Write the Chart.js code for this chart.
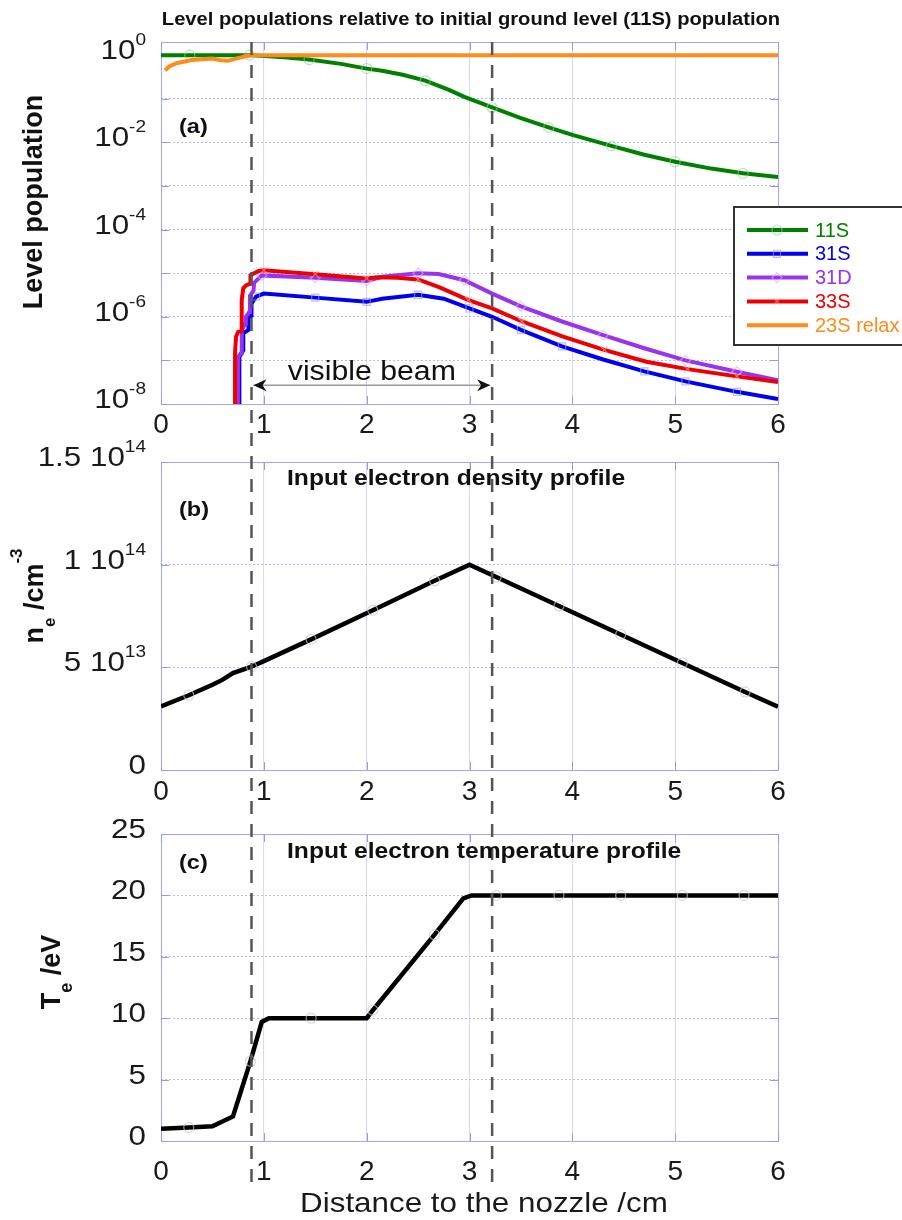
<!DOCTYPE html>
<html>
<head>
<meta charset="utf-8">
<script src="https://cdn.jsdelivr.net/npm/chart.js@4.4.1/dist/chart.umd.min.js"></script>
<style>
  body { margin: 0; background: #fff; }
  #page { position: relative; width: 902px; height: 1220px; overflow: hidden; background: #fff; }
  canvas { position: absolute; left: 0; }
</style>
</head>
<body>
<div id="page">
  <canvas id="grafA" width="902" height="445" style="top:0px"></canvas>
  <canvas id="grafB" width="902" height="390" style="top:425px"></canvas>
  <canvas id="grafC" width="902" height="430" style="top:790px"></canvas>
</div>
<script>
// dados

const xTicks = [0, 1, 2, 3, 4, 5, 6]
const beamEdges = [0.88, 3.22]
const beamArrowY = 2.7e-8

// (a) populacoes
const popTicks = [1e-8, 1e-7, 1e-6, 1e-5, 1e-4, 1e-3, 1e-2, 1e-1, 1]

const x11S = [0, 0.28, 0.6, 0.86, 1.2, 1.44, 1.75, 2.0, 2.15, 2.35, 2.57, 2.8, 2.95, 3.22, 3.5, 3.77, 4.0, 4.38, 4.7, 5.0, 5.35, 5.66, 6.0]
const pop11S = [1, 1, 1, 1, 0.89, 0.79, 0.63, 0.49, 0.44, 0.355, 0.26, 0.16, 0.11, 0.063, 0.036, 0.022, 0.0148, 0.0083, 0.0052, 0.0036, 0.0025, 0.00195, 0.0016]
const mark11S = [0.28, 0.86, 1.44, 2.0, 2.57, 3.22, 3.77, 4.38, 5.0, 5.66]

const x31S = [0.76, 0.762, 0.762, 0.8, 0.8, 0.85, 0.85, 0.88, 0.88, 0.924, 1.0, 1.5, 2.0, 2.15, 2.5, 2.75, 3.0, 3.22, 3.5, 3.9, 4.3, 4.7, 5.1, 5.6, 6.0]
const pop31S = [1e-9, 4e-8, 1.2e-7, 1.7e-7, 4.2e-7, 5e-7, 1e-6, 1.05e-6, 2e-6, 2.9e-6, 3.4e-6, 2.75e-6, 2.2e-6, 2.6e-6, 3.2e-6, 2.6e-6, 1.55e-6, 1.0e-6, 5.0e-7, 2.1e-7, 1.05e-7, 5.6e-8, 3.3e-8, 1.9e-8, 1.3e-8]
const mark31S = [0.924, 1.5, 2.0, 2.5, 3.0, 3.5, 3.9, 4.7, 5.1, 5.6]

const x31D = [0.745, 0.75, 0.78, 0.785, 0.82, 0.825, 0.86, 0.865, 0.9, 0.905, 0.98, 1.5, 2.0, 2.15, 2.5, 2.7, 2.95, 3.22, 3.5, 3.9, 4.3, 4.7, 5.1, 5.6, 6.0]
const pop31D = [1e-9, 1.2e-7, 1.5e-7, 5e-7, 7e-7, 1e-6, 1.3e-6, 3e-6, 4e-6, 6e-6, 8.9e-6, 7.9e-6, 6.6e-6, 8.3e-6, 1.0e-5, 9.6e-6, 6.9e-6, 3.4e-6, 1.74e-6, 7.8e-7, 3.8e-7, 1.9e-7, 1.0e-7, 5.5e-8, 3.5e-8]
const mark31D = [0.98, 1.5, 2.0, 2.5, 2.95, 3.5, 4.3, 5.1, 5.6]

const x33S = [0.72, 0.72, 0.73, 0.75, 0.785, 0.785, 0.8, 0.83, 0.866, 0.87, 0.95, 1.0, 1.5, 2.0, 2.1, 2.3, 2.5, 2.71, 2.99, 3.22, 3.51, 3.91, 4.31, 4.72, 5.12, 5.6, 6.0]
const pop33S = [1e-9, 1.5e-7, 3.5e-7, 4.5e-7, 4.7e-7, 2.4e-6, 4.5e-6, 5.3e-6, 5.7e-6, 9e-6, 1.12e-5, 1.17e-5, 9.5e-6, 7.6e-6, 8.1e-6, 7.9e-6, 7.2e-6, 4.7e-6, 2.4e-6, 1.55e-6, 7.8e-7, 3.5e-7, 1.74e-7, 9.3e-8, 6.3e-8, 4.3e-8, 3.2e-8]
const mark33S = [1.0, 1.5, 2.0, 2.5, 2.99, 3.51, 4.31, 5.12, 5.6]

const x23S = [0.04, 0.08, 0.15, 0.3, 0.5, 0.58, 0.65, 0.72, 0.84, 0.88, 6.0]
const pop23S = [0.45, 0.55, 0.65, 0.77, 0.84, 0.76, 0.74, 0.82, 0.97, 1, 1]

// (b) densidade
const neTicks = [0, 5e13, 1e14, 1.5e14]
const xNe = [0, 0.27, 0.5, 0.6, 0.7, 0.88, 1.0, 1.46, 2.06, 2.66, 3.0, 3.26, 3.87, 4.47, 5.07, 5.68, 6.0]
const ne = [3.1e13, 3.64e13, 4.15e13, 4.4e13, 4.72e13, 5.03e13, 5.3e13, 6.36e13, 7.78e13, 9.22e13, 1.0e14, 9.4e13, 7.99e13, 6.6e13, 5.21e13, 3.8e13, 3.08e13]
const markNe = [0.27, 0.88, 1.46, 2.06, 2.66, 3.26, 3.87, 4.47, 5.07, 5.68]

// (c) temperatura
const teTicks = [0, 5, 10, 15, 20, 25]
const xTe = [0, 0.27, 0.5, 0.7, 0.87, 0.98, 1.05, 1.46, 2.0, 2.06, 2.66, 2.94, 3.02, 3.26, 3.87, 4.47, 5.07, 5.67, 6.0]
const te = [1.0, 1.1, 1.2, 2.0, 6.5, 9.7, 10, 10, 10, 10.65, 16.8, 19.75, 20, 20, 20, 20, 20, 20, 20]
const markTe = [0.27, 0.87, 1.46, 2.06, 2.66, 3.26, 3.87, 4.47, 5.07, 5.67]


const FONT = '"Liberation Sans", Arial, sans-serif'
const STRETCH = 1.12
const GRIDX = 'rgb(214,214,255)'
const GRIDY = 'rgb(185,185,255)'

function pts(xs, ys) {
    return xs.map((x, i) => ({ x: x, y: ys[i] }))
}

function markerRadius(marks) {
    return c => (c.raw && marks.some(m => Math.abs(m - c.raw.x) < 1e-6)) ? 5 : 0
}

function serie(label, xs, ys, cor, marca, estilo, marks, ordem, largura) {
    return {
        label: label,
        data: pts(xs, ys),
        borderColor: cor,
        borderWidth: largura || 4,
        tension: 0,
        fill: false,
        order: ordem,
        pointStyle: estilo,
        pointRadius: markerRadius(marks),
        pointHoverRadius: 0,
        pointBorderColor: marca,
        pointBackgroundColor: 'rgba(0,0,0,0)',
        pointBorderWidth: 1.2
    }
}

function sText(ctx, s, x, y, font, color, align) {
    ctx.save()
    ctx.font = font
    ctx.fillStyle = color
    ctx.textBaseline = 'alphabetic'
    let w = ctx.measureText(s).width * STRETCH
    let x0 = align == 'center' ? x - w / 2 : align == 'right' ? x - w : x
    ctx.translate(x0, y)
    ctx.scale(STRETCH, 1)
    ctx.fillText(s, 0, 0)
    ctx.restore()
    return w
}

function tickLabel(ctx, parts, xRight, yBase) {
    let total = 0
    parts.forEach(p => {
        ctx.font = (p[1] ? 17 : 28) + 'px ' + FONT
        total += ctx.measureText(p[0]).width * STRETCH
    })
    let x = xRight - total
    parts.forEach(p => {
        let f = (p[1] ? 17 : 28) + 'px ' + FONT
        x += sText(ctx, p[0], x, p[1] ? yBase - 14 : yBase, f, '#1a1a1a', 'left')
    })
}

function rotTitle(ctx, runs, x, yCenter) {
    ctx.save()
    ctx.translate(x, yCenter)
    ctx.rotate(-Math.PI / 2)
    ctx.fillStyle = '#111'
    ctx.textBaseline = 'alphabetic'
    let w = 0
    runs.forEach(r => { ctx.font = 'bold ' + r[1] + 'px ' + FONT; w += ctx.measureText(r[0]).width })
    let cx = -w / 2
    runs.forEach(r => {
        ctx.font = 'bold ' + r[1] + 'px ' + FONT
        ctx.fillText(r[0], cx, r[2])
        cx += ctx.measureText(r[0]).width
    })
    ctx.restore()
}

function supNumber(v) {
    if (v == 0) return [['0', 0]]
    let e = Math.floor(Math.log10(v) + 1e-9)
    let m = Math.round(v / Math.pow(10, e) * 100) / 100
    return [[m + ' 10', 0], [String(e), 1]]
}

const panelCfg = {
    grafA: {
        top: 0, dash: [42, 440],
        title: 'Level populations relative to initial ground level (11S) population', titleFont: 'bold 18px ' + FONT, titleX: 471, titleY: 25, titleAlign: 'center',
        tag: '(a)', tagY: 133,
        yTitle: [['Level population', 27, 0]], yTitleX: 42, yTitleY: 202,
        tickText: v => {
            let e = Math.round(Math.log10(v))
            return e % 2 == 0 ? [['10', 0], [String(e), 1]] : null
        },
        legend: true, beam: true
    },
    grafB: {
        top: 425, dash: [440, 805],
        title: 'Input electron density profile', titleFont: 'bold 22px ' + FONT, titleX: 287, titleY: 60, titleAlign: 'left',
        tag: '(b)', tagY: 91,
        yTitle: [['n', 27, 0], ['e', 17, 12], [' /cm', 27, 0], ['-3', 17, -21]], yTitleX: 43, yTitleY: 171,
        tickText: supNumber
    },
    grafC: {
        top: 790, dash: [805, 1183],
        title: 'Input electron temperature profile', titleFont: 'bold 22px ' + FONT, titleX: 287, titleY: 68, titleAlign: 'left',
        tag: '(c)', tagY: 79,
        yTitle: [['T', 27, 0], ['e', 18, 12], [' /eV', 27, 0]], yTitleX: 60, yTitleY: 182,
        tickText: v => [[String(v), 0]],
        xTitle: 'Distance to the nozzle /cm', xTitleX: 484, xTitleY: 422
    }
}

function drawLegend(chart) {
    const ctx = chart.ctx, a = chart.chartArea
    const bx = a.right - 44, by = a.top + 165, bh = 138
    ctx.save()
    ctx.fillStyle = '#fff'
    ctx.fillRect(bx, by, 200, bh)
    ctx.strokeStyle = '#333'
    ctx.lineWidth = 2
    ctx.strokeRect(bx, by, 200, bh)
    chart.data.datasets.forEach((ds, k) => {
        const y = by + 23 + k * 23.8
        ctx.strokeStyle = ds.borderColor
        ctx.lineWidth = 4
        ctx.beginPath()
        ctx.moveTo(bx + 13, y)
        ctx.lineTo(bx + 74, y)
        ctx.stroke()
        if (ds.pointStyle && Chart.helpers && Chart.helpers.drawPoint) {
            ctx.strokeStyle = ds.pointBorderColor
            ctx.fillStyle = 'rgba(0,0,0,0)'
            ctx.lineWidth = 1.2
            Chart.helpers.drawPoint(ctx, { pointStyle: ds.pointStyle, radius: 5, rotation: 0, borderWidth: 1.2 }, bx + 43, y)
        }
        ctx.fillStyle = ds.borderColor
        ctx.font = '20px ' + FONT
        ctx.textBaseline = 'middle'
        ctx.fillText(ds.label, bx + 81, y + 1)
    })
    ctx.restore()
}

const deco = {
    id: 'deco',
    beforeDatasetsDraw(chart) {
        const a = chart.chartArea, ctx = chart.ctx
        const sy = chart.scales.y, sx = chart.scales.x
        ctx.save()
        ctx.strokeStyle = 'rgb(165,165,255)'
        ctx.lineWidth = 1
        ctx.strokeRect(Math.round(a.left) + 0.5, Math.round(a.top) + 0.5, Math.round(a.right - a.left), Math.round(a.bottom - a.top))
        ctx.strokeStyle = 'rgb(150,150,255)'
        ctx.beginPath()
        sy.ticks.forEach(t => {
            const y = Math.round(sy.getPixelForValue(t.value)) + 0.5
            ctx.moveTo(a.left, y); ctx.lineTo(a.left + 8, y)
            ctx.moveTo(a.right - 8, y); ctx.lineTo(a.right, y)
        })
        sx.ticks.forEach(t => {
            const x = Math.round(sx.getPixelForValue(t.value)) + 0.5
            ctx.moveTo(x, a.bottom); ctx.lineTo(x, a.bottom - 8)
            ctx.moveTo(x, a.top); ctx.lineTo(x, a.top + 8)
        })
        ctx.stroke()
        ctx.restore()
    },
    afterDatasetsDraw(chart) {
        const cfg = panelCfg[chart.canvas.id]
        const ctx = chart.ctx, sx = chart.scales.x
        ctx.save()
        ctx.strokeStyle = '#555'
        ctx.lineWidth = 2.5
        ctx.setLineDash([13, 10])
        ctx.lineDashOffset = cfg.dash[0] - 42
        beamEdges.forEach(b => {
            const x = sx.getPixelForValue(b)
            ctx.beginPath()
            ctx.moveTo(x, cfg.dash[0] - cfg.top)
            ctx.lineTo(x, cfg.dash[1] - cfg.top)
            ctx.stroke()
        })
        ctx.restore()
    },
    afterDraw(chart) {
        const cfg = panelCfg[chart.canvas.id]
        const ctx = chart.ctx, a = chart.chartArea
        const sy = chart.scales.y, sx = chart.scales.x

        sy.ticks.forEach(t => {
            const parts = cfg.tickText(t.value)
            if (!parts) return
            tickLabel(ctx, parts, a.left - 15, sy.getPixelForValue(t.value) + 4)
        })

        sText(ctx, cfg.title, cfg.titleX, cfg.titleY, cfg.titleFont, '#111', cfg.titleAlign)
        sText(ctx, cfg.tag, a.left + 18, cfg.tagY, 'bold 21px ' + FONT, '#111', 'left')
        rotTitle(ctx, cfg.yTitle, cfg.yTitleX, cfg.yTitleY)

        if (cfg.xTitle) {
            sText(ctx, cfg.xTitle, cfg.xTitleX, cfg.xTitleY, '28px ' + FONT, '#1a1a1a', 'center')
        }

        if (cfg.beam) {
            const x1 = sx.getPixelForValue(beamEdges[0]), x2 = sx.getPixelForValue(beamEdges[1])
            const y = sy.getPixelForValue(beamArrowY)
            ctx.save()
            ctx.strokeStyle = '#999'
            ctx.lineWidth = 1.5
            ctx.beginPath()
            ctx.moveTo(x1 + 2, y)
            ctx.lineTo(x2 - 2, y)
            ctx.stroke()
            ctx.fillStyle = '#111'
            ;[[x1 + 2, 1], [x2 - 2, -1]].forEach(p => {
                ctx.beginPath()
                ctx.moveTo(p[0], y)
                ctx.lineTo(p[0] + p[1] * 13, y - 6)
                ctx.lineTo(p[0] + p[1] * 9, y)
                ctx.lineTo(p[0] + p[1] * 13, y + 6)
                ctx.closePath()
                ctx.fill()
            })
            ctx.restore()
            sText(ctx, 'visible beam', (x1 + x2) / 2, y - 5, '27px ' + FONT, '#111', 'center')
        }

        if (cfg.legend) drawLegend(chart)
    }
}

function eixoX(h, pad) {
    return {
        type: 'linear', min: 0, max: 6,
        afterBuildTicks: s => { s.ticks = xTicks.map(v => ({ value: v })) },
        afterFit: s => { s.height = h },
        ticks: { font: { size: 28, family: FONT }, color: '#1a1a1a', padding: pad, maxRotation: 0, autoSkip: false },
        grid: { color: GRIDX, lineWidth: 1, drawTicks: false },
        border: { display: false }
    }
}

function eixoY(tipo, min, max, ticks) {
    return {
        type: tipo, min: min, max: max,
        afterBuildTicks: s => { s.ticks = ticks.map(v => ({ value: v })) },
        afterFit: s => { s.width = 161 },
        ticks: { display: false },
        grid: { color: GRIDY, lineWidth: 1, drawTicks: false },
        border: { display: false, dash: [2, 2] }
    }
}

function opcoes(padTop, x, y) {
    return {
        responsive: false,
        animation: false,
        events: [],
        layout: { padding: { top: padTop, right: 124, left: 0, bottom: 0 } },
        plugins: { legend: { display: false }, tooltip: { enabled: false }, title: { display: false } },
        scales: { x: x, y: y }
    }
}

function graficoPopulacao() {
    new Chart(document.getElementById('grafA'), {
        type: 'line',
        data: {
            datasets: [
                serie('11S', x11S, pop11S, '#008000', 'rgba(140,210,140,0.6)', 'circle', mark11S, 1),
                serie('31S', x31S, pop31S, '#0000ee', 'rgba(150,150,255,0.65)', 'rect', mark31S, 4),
                serie('31D', x31D, pop31D, '#9933ee', 'rgba(220,170,255,0.65)', 'rectRot', mark31D, 3),
                serie('33S', x33S, pop33S, '#ee0000', 'rgba(255,160,160,0.65)', 'crossRot', mark33S, 2),
                serie('23S relax', x23S, pop23S, '#ff8c1a', 'rgba(0,0,0,0)', false, [], 0)
            ]
        },
        options: opcoes(42, eixoX(41, 4), eixoY('logarithmic', 1e-8, 2, popTicks)),
        plugins: [deco]
    })
}

function graficoDensidade() {
    new Chart(document.getElementById('grafB'), {
        type: 'line',
        data: { datasets: [serie('ne', xNe, ne, '#000', 'rgba(200,200,200,0.7)', 'circle', markNe, 0, 4.5)] },
        options: opcoes(37, eixoX(45, 5), eixoY('linear', 0, 1.5e14, neTicks)),
        plugins: [deco]
    })
}

function graficoTemperatura() {
    new Chart(document.getElementById('grafC'), {
        type: 'line',
        data: { datasets: [serie('Te', xTe, te, '#000', 'rgba(200,200,200,0.7)', 'circle', markTe, 0, 4.5)] },
        options: opcoes(44, eixoX(79, 14), eixoY('linear', 0, 25, teTicks)),
        plugins: [deco]
    })
}

graficoPopulacao()
graficoDensidade()
graficoTemperatura()
</script>
</body>
</html>
